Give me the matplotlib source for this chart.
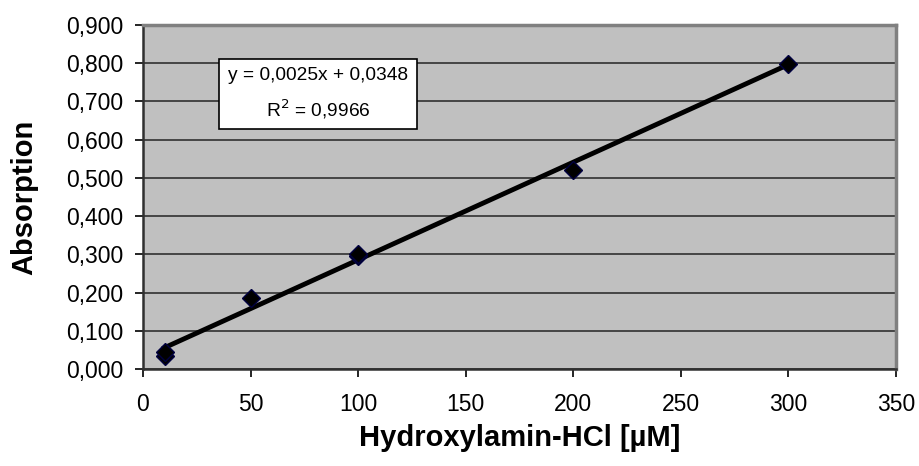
import matplotlib
matplotlib.use("Agg")
from matplotlib import pyplot as plt
from matplotlib.ticker import FuncFormatter
import numpy as np

plt.rcParams["font.family"] = ["Liberation Sans", "DejaVu Sans"]

# Hydroxylamin-HCl concentration (uM) and measured absorption
conc = [10, 10, 50, 100, 100, 200, 300]
absorption = [0.033, 0.045, 0.186, 0.295, 0.300, 0.520, 0.799]

eq_text = "y = 0,0025x + 0,0348"
r2_text = "R$^2$ = 0,9966"

fig = plt.figure(figsize=(9.19, 4.66), dpi=100)
ax = fig.add_axes([0.1556, 0.2082, 0.8194, 0.7382])
ax.set_facecolor("#C0C0C0")

# linear trendline over data range
k, d = np.polyfit(conc, absorption, 1)
xs = np.array([min(conc), max(conc)])
ax.plot(xs, k * xs + d, color="black", linewidth=3.5, zorder=3)

ax.plot(conc, absorption, linestyle="none", marker="D", markersize=9,
        color="black", markeredgecolor="#000040", zorder=4)

ax.set_xlim(0, 350)
ax.set_ylim(0, 0.9)
ax.set_xticks(np.arange(0, 351, 50))
ax.set_yticks(np.arange(0, 0.901, 0.1))
ax.yaxis.set_major_formatter(FuncFormatter(lambda v, p: "{:.3f}".format(v).replace(".", ",")))
ax.grid(axis="y", color="#303030", linewidth=1.2)
ax.set_axisbelow(True)

ax.tick_params(direction="out", length=6, width=1.2, labelsize=16.5, colors="black")
ax.tick_params(axis="x", pad=11)
ax.tick_params(axis="y", pad=8)
for s in ["top", "right"]:
    ax.spines[s].set_color("#808080")
    ax.spines[s].set_linewidth(2.5)
for s in ["left", "bottom"]:
    ax.spines[s].set_color("#303030")
    ax.spines[s].set_linewidth(1.8)

ax.set_xlabel("Hydroxylamin-HCl [µM]", fontsize=21, fontweight="bold", labelpad=6)
ax.set_ylabel("Absorption", fontsize=21, fontweight="bold", labelpad=20)

ax.text(0.2325, 0.80, eq_text + "\n" + r2_text, transform=ax.transAxes,
        ha="center", va="center", fontsize=13.8, linespacing=1.7,
        bbox=dict(boxstyle="square,pad=0.45", facecolor="white", edgecolor="black", linewidth=1.2),
        zorder=5)

fig.savefig("out.png", dpi=100)
